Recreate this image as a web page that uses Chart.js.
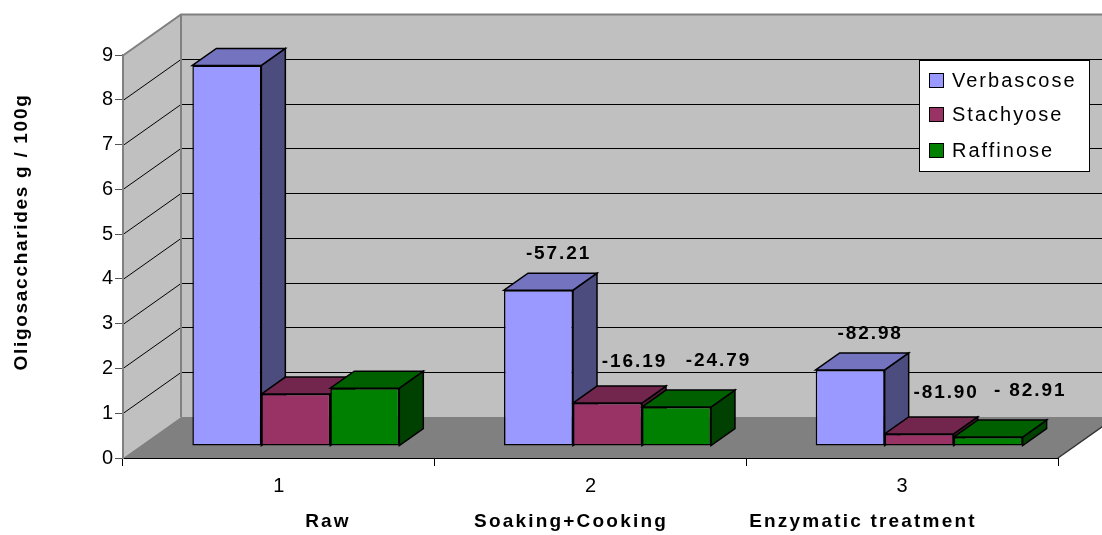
<!DOCTYPE html>
<html>
<head>
<meta charset="utf-8">
<title>Oligosaccharides</title>
<script src="https://cdn.jsdelivr.net/npm/chart.js@4.4.1/dist/chart.umd.min.js"></script>
<style>
    body { margin: 0; background: #fff; }
    canvas { display: block; }
</style>
</head>
<body>
<canvas id="oligoChart" width="1102" height="535"></canvas>
<script>
// Data
const categories = ['1', '2', '3'];
const groupNames = ['Raw', 'Soaking+Cooking', 'Enzymatic treatment'];
const verbascose = [8.50, 3.48, 1.70];
const stachyose = [1.16, 0.96, 0.27];
const raffinose = [1.29, 0.87, 0.20];
const verbascoseLabels = ['', '-57.21', '-82.98'];
const stachyoseLabels = ['', '-16.19', '-81.90'];
const raffinoseLabels = ['', '-24.79', '- 82.91'];

const FONT = "'Liberation Sans', Arial, sans-serif";

// 3D look
const WALL_DX = 58, WALL_DY = 41;     // depth of the back wall
const SHIFT_X = 17, SHIFT_Y = 12;     // bars sit a bit behind the front edge
const BAR_DX = 24, BAR_DY = 17;       // depth of each bar

const faceColors = [
    { top: '#7373BF', side: '#4C4C7F' },
    { top: '#73264D', side: '#4D1A33' },
    { top: '#006000', side: '#004000' }
];
const pointLabels = [verbascoseLabels, stachyoseLabels, raffinoseLabels];
const labelOffsets = [[20, -36], [27, -41], [42, -46]];

function poly(ctx, pts, fill, stroke, lw) {
    ctx.beginPath();
    ctx.moveTo(pts[0][0], pts[0][1]);
    for (let i = 1; i < pts.length; i++) ctx.lineTo(pts[i][0], pts[i][1]);
    ctx.closePath();
    if (fill) { ctx.fillStyle = fill; ctx.fill(); }
    if (stroke) { ctx.strokeStyle = stroke; ctx.lineWidth = lw || 1; ctx.stroke(); }
}

const walls3d = {
    id: 'walls3d',
    beforeDraw(chart) {
        const { ctx, chartArea: a, scales: { y } } = chart;
        const W = chart.width;
        ctx.save();
        // left wall, back wall, floor
        poly(ctx, [[a.left, a.top], [a.left + WALL_DX, a.top - WALL_DY],
                   [a.left + WALL_DX, a.bottom - WALL_DY], [a.left, a.bottom]], '#C0C0C0');
        poly(ctx, [[a.left + WALL_DX, a.top - WALL_DY], [W + 5, a.top - WALL_DY],
                   [W + 5, a.bottom - WALL_DY], [a.left + WALL_DX, a.bottom - WALL_DY]], '#C0C0C0');
        poly(ctx, [[a.left, a.bottom], [a.right, a.bottom],
                   [a.right + WALL_DX, a.bottom - WALL_DY], [a.left + WALL_DX, a.bottom - WALL_DY]], '#808080');

        // gridlines on the side and back walls
        y.ticks.forEach(t => {
            if (t.value === 0) return;
            const py = Math.round(y.getPixelForValue(t.value)) + 0.5;
            ctx.strokeStyle = t.value === y.max ? '#808080' : '#000';
            ctx.lineWidth = t.value === y.max ? 2 : 1;
            ctx.beginPath();
            ctx.moveTo(a.left, py);
            ctx.lineTo(a.left + WALL_DX, py - WALL_DY);
            ctx.lineTo(W + 5, py - WALL_DY);
            ctx.stroke();
        });

        // wall edges
        ctx.strokeStyle = '#808080';
        ctx.lineWidth = 2;
        ctx.beginPath();
        ctx.moveTo(a.left + WALL_DX, a.top - WALL_DY);
        ctx.lineTo(a.left + WALL_DX, a.bottom - WALL_DY);
        ctx.stroke();
        ctx.strokeStyle = '#333';
        ctx.lineWidth = 1.5;
        ctx.beginPath();
        ctx.moveTo(a.right, a.bottom);
        ctx.lineTo(a.right + WALL_DX, a.bottom - WALL_DY);
        ctx.stroke();
        ctx.restore();
    },
    beforeDatasetsDraw(chart) {
        const ctx = chart.ctx;
        ctx.save();
        ctx.translate(SHIFT_X, -SHIFT_Y);
        // sides and tops first, left to right; Chart.js paints the front faces afterwards
        chart.data.datasets.forEach((ds, i) => {
            const meta = chart.getDatasetMeta(i);
            meta.data.forEach(bar => {
                const { x, y, base, width } = bar.getProps(['x', 'y', 'base', 'width'], true);
                const l = x - width / 2, r = x + width / 2;
                poly(ctx, [[r, y], [r + BAR_DX, y - BAR_DY], [r + BAR_DX, base - BAR_DY], [r, base]],
                     faceColors[i].side, '#000', 1.5);
                poly(ctx, [[l, y], [l + BAR_DX, y - BAR_DY], [r + BAR_DX, y - BAR_DY], [r, y]],
                     faceColors[i].top, '#000', 1.5);
            });
        });
    },
    afterDatasetsDraw(chart) {
        const ctx = chart.ctx;
        ctx.restore();

        // percentage labels
        ctx.save();
        ctx.fillStyle = '#000';
        ctx.font = 'bold 19px ' + FONT;
        ctx.letterSpacing = '1.9px';
        ctx.textAlign = 'center';
        ctx.textBaseline = 'middle';
        chart.data.datasets.forEach((ds, i) => {
            chart.getDatasetMeta(i).data.forEach((bar, j) => {
                const txt = pointLabels[i][j];
                if (!txt) return;
                ctx.fillText(txt, bar.x + SHIFT_X + labelOffsets[i][0], bar.y - SHIFT_Y + labelOffsets[i][1]);
            });
        });

        // group names under the axis
        ctx.letterSpacing = '2.2px';
        const groupX = [328, 571, 863];
        groupNames.forEach((g, i) => ctx.fillText(g, groupX[i], 522));

        // y axis title
        ctx.letterSpacing = '1.7px';
        ctx.translate(22, 232);
        ctx.rotate(-Math.PI / 2);
        ctx.fillText('Oligosaccharides g / 100g', 0, 0);
        ctx.restore();

        // legend
        ctx.save();
        const lx = 919, ly = 60, lw = 170, lh = 111;
        ctx.fillStyle = '#fff';
        ctx.fillRect(lx, ly, lw, lh);
        ctx.strokeStyle = '#000';
        ctx.lineWidth = 1;
        ctx.strokeRect(lx + 0.5, ly + 0.5, lw, lh);
        ctx.font = '20px ' + FONT;
        ctx.letterSpacing = '2px';
        ctx.textBaseline = 'middle';
        const rows = [80, 114, 150];
        chart.data.datasets.forEach((ds, i) => {
            ctx.fillStyle = ds.backgroundColor;
            ctx.fillRect(lx + 10, rows[i] - 7, 14, 14);
            ctx.strokeRect(lx + 10.5, rows[i] - 6.5, 14, 14);
            ctx.fillStyle = '#000';
            ctx.fillText(ds.label, lx + 33, rows[i] + 1);
        });
        ctx.restore();
    }
};

const barDefaults = { borderColor: '#000', borderWidth: 1.5, borderSkipped: false, clip: false };

new Chart(document.getElementById('oligoChart'), {
    type: 'bar',
    data: {
        labels: categories,
        datasets: [
            { label: 'Verbascose', data: verbascose, backgroundColor: '#9999FF', ...barDefaults },
            { label: 'Stachyose', data: stachyose, backgroundColor: '#993366', ...barDefaults },
            { label: 'Raffinose', data: raffinose, backgroundColor: '#008000', ...barDefaults }
        ]
    },
    options: {
        responsive: false,
        animation: false,
        layout: { padding: { left: 0, right: 44, top: 55, bottom: 0 } },
        datasets: { bar: { categoryPercentage: 0.664, barPercentage: 1 } },
        plugins: { legend: { display: false }, tooltip: { enabled: false } },
        scales: {
            x: {
                grid: { offset: true, drawOnChartArea: false, tickLength: 8, color: '#000' },
                border: { color: '#000', width: 1 },
                ticks: { color: '#000', font: { family: FONT, size: 20 }, padding: 8 },
                afterFit(scale) { scale.height = 77; }
            },
            y: {
                min: 0,
                max: 9,
                ticks: { stepSize: 1, color: '#000', font: { family: FONT, size: 20 }, padding: 2 },
                grid: { drawOnChartArea: false, tickLength: 8, color: '#555' },
                border: { color: '#808080', width: 2 },
                afterFit(scale) { scale.width = 123; }
            }
        }
    },
    plugins: [walls3d]
});
</script>
</body>
</html>
